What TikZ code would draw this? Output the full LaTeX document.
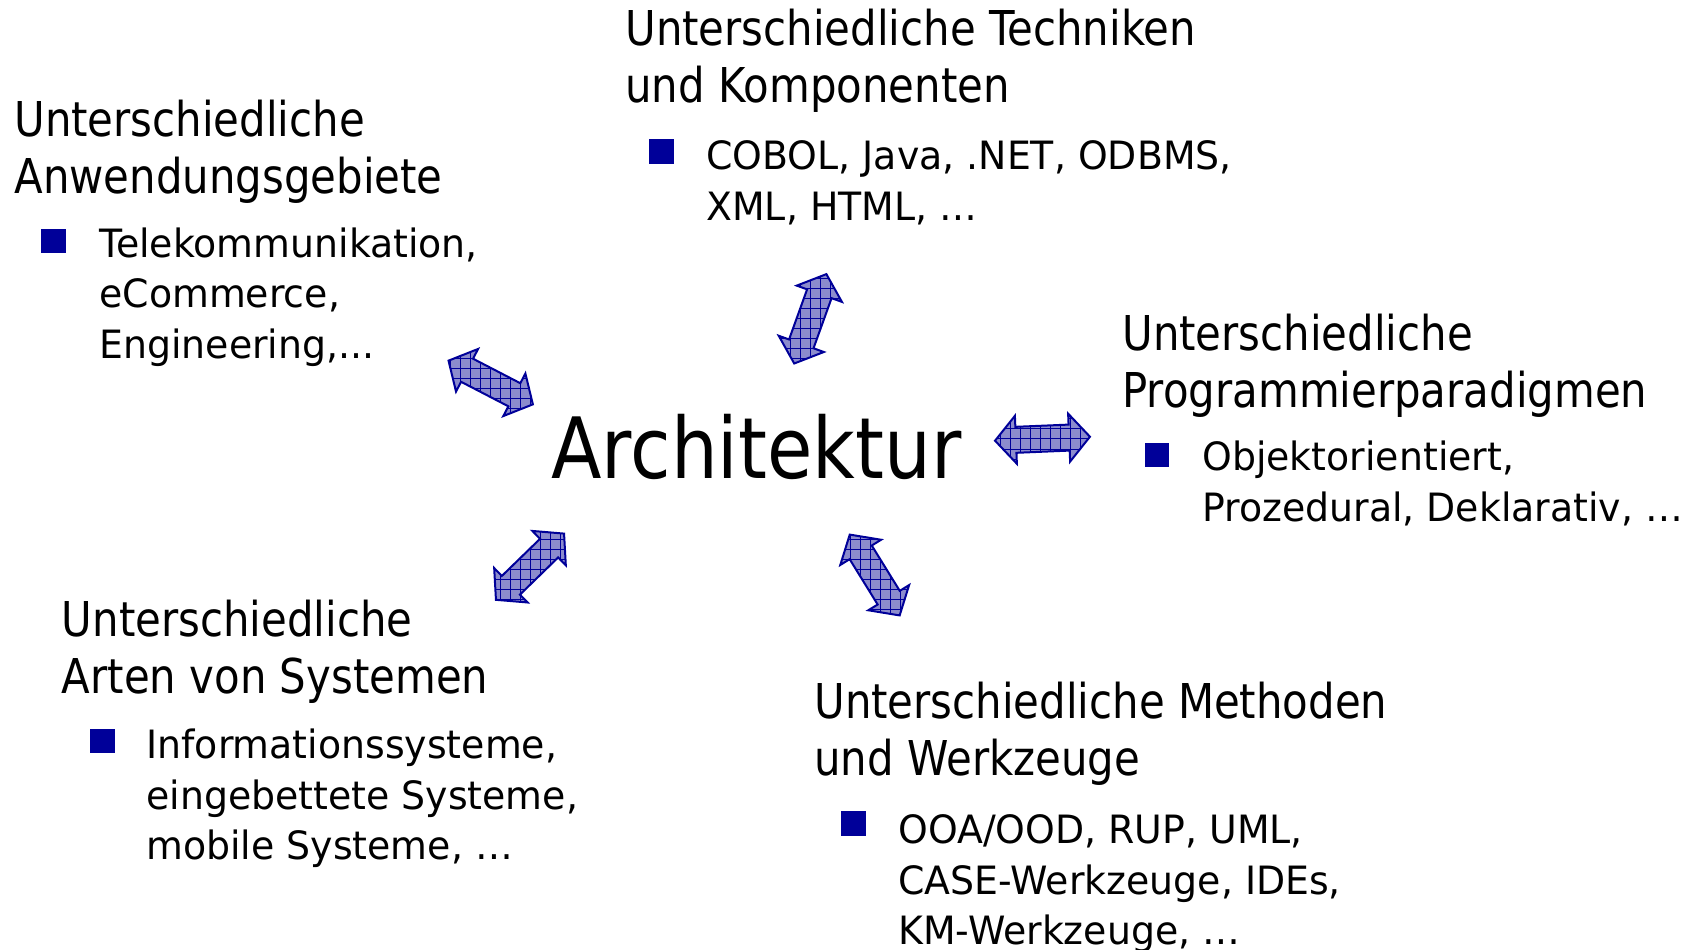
\documentclass[tikz,border=0pt]{standalone}
\usepackage{fontspec}
\setmainfont{DejaVu Sans}
\newfontfamily\headfont{DejaVu Sans}[FakeStretch=0.872]
\newfontfamily\itemfont{DejaVu Sans}[FakeStretch=0.97]
\usetikzlibrary{shapes.arrows,patterns.meta}
\definecolor{navy}{RGB}{0,0,153}
\definecolor{lavender}{RGB}{140,140,205}

\begin{document}
\begin{tikzpicture}[x=0.5pt,y=-0.5pt,
    head/.style={font=\headfont\fontsize{24}{28.35}\selectfont,align=left,anchor=north west,inner sep=0pt,yshift=19.845pt},
    item/.style={font=\itemfont\fontsize{19.5}{25.35}\selectfont,align=left,anchor=north west,inner sep=0pt,yshift=17.745pt},
    bullet/.style={fill=navy,minimum size=12.25pt,inner sep=0pt},
    twoway/.style={double arrow,rotate=#1,draw=navy,line width=1pt,fill=lavender,
        path picture={\fill[rotate=-#1,pattern={Hatch[distance=5pt,line width=0.5pt]},pattern color=navy]
            (-100pt,-100pt) rectangle (100pt,100pt);},
        minimum height=47.5pt,double arrow head extend=5.5pt,double arrow tip angle=98,inner sep=6pt}]
    \useasboundingbox (0,0) rectangle (1691,949);
    \node[anchor=base west,inner sep=0pt,font=\headfont\fontsize{42.3}{50}\selectfont] (arch) at (551,478) {Architektur};

    \node[head]   (anw)      at (14,136)     {\strut Unterschiedliche\\Anwendungsgebiete};
    \node[bullet] (anwb)     at (53.4,241)   {};
    \node[item]   (anwlist)  at (99,256.7)   {\strut Telekommunikation,\\eCommerce,\\Engineering,...};

    \node[head]   (tech)     at (625,45)     {\strut Unterschiedliche Techniken\\und Komponenten};
    \node[bullet] (techb)    at (661.5,151.3) {};
    \node[item]   (techlist) at (706,169.3)  {\strut COBOL, Java, .NET, ODBMS,\\XML, HTML, …};

    \node[head]   (para)     at (1122,350)   {\strut Unterschiedliche\\Programmierparadigmen};
    \node[bullet] (parab)    at (1157,454.8) {};
    \node[item]   (paralist) at (1202,470)   {\strut Objektorientiert,\\Prozedural, Deklarativ, …};

    \node[head]   (sys)      at (61.5,636)   {\strut Unterschiedliche\\Arten von Systemen};
    \node[bullet] (sysb)     at (102.4,741)  {};
    \node[item]   (syslist)  at (146,758)    {\strut Informationssysteme,\\eingebettete Systeme,\\mobile Systeme, …};

    \node[head]   (meth)     at (814,718)    {\strut Unterschiedliche Methoden\\und Werkzeuge};
    \node[bullet] (methb)    at (853.5,823.5) {};
    \node[item]   (methlist) at (898,843)    {\strut OOA/OOD, RUP, UML,\\CASE-Werkzeuge, IDEs,\\KM-Werkzeuge, …};

    \node[twoway=70.2]  (techarrow) at (810.3,318.8)  {};
    \node[twoway=-27.4] (anwarrow)  at (490.7,382.5)  {};
    \node[twoway=2.4]   (paraarrow) at (1042.5,438.7) {};
    \node[twoway=44.2]  (sysarrow)  at (530,566.7)    {};
    \node[twoway=-58.3] (metharrow) at (874.7,575)    {};
\end{tikzpicture}
\end{document}
